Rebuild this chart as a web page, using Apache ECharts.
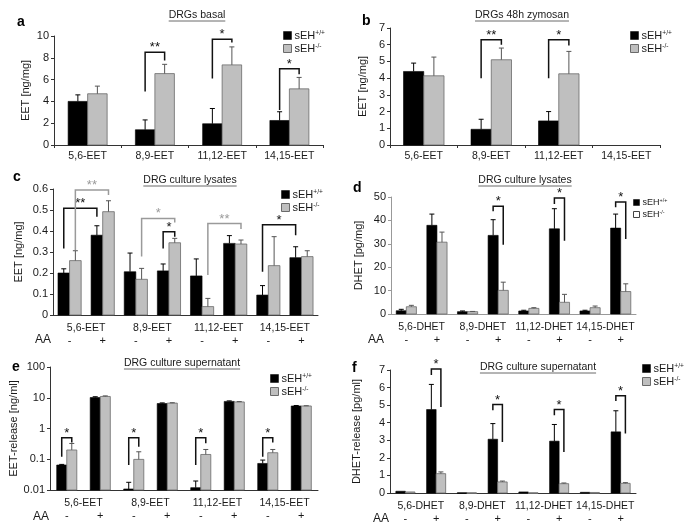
<!DOCTYPE html>
<html><head><meta charset="utf-8">
<script src="https://cdn.jsdelivr.net/npm/echarts@6/dist/echarts.min.js"></script>
<style>html,body{margin:0;padding:0;background:#fff}#c{width:685px;height:530px}</style>
</head><body><div id="c"></div>
<script>
// ---------- categories ----------
const catsEET = ['5,6-EET','8,9-EET','11,12-EET','14,15-EET'];
const catsDHET = ['5,6-DHET','8,9-DHET','11,12-DHET','14,15-DHET'];
const aaSigns = ['-','+','-','+','-','+','-','+'];
const seriesNames = ['sEH+/+','sEH-/-'];

// ---------- panel a: DRGs basal (ng/mg) ----------
const aWT = [4.0, 1.4, 1.95, 2.25];
const aWTerr = [4.6, 2.3, 3.35, 3.05];
const aKO = [4.7, 6.55, 7.35, 5.15];
const aKOerr = [5.4, 7.4, 9.0, 6.2];
// brackets: [leftCat, leftSide, leftBottom, rightCat, rightSide, rightBottom, top]
const aBr = [[1,0,4.9,1,1,7.75,8.5],[2,0,6.1,2,1,9.4,9.7],[3,0,3.2,3,1,6.5,7.0]];
const aBrMark = ['**','*','*'];

// ---------- panel b: DRGs 48h zymosan ----------
const bWT = [4.4, 0.94, 1.44, 0];
const bWTerr = [4.9, 1.54, 2.0, 0];
const bKO = [4.14, 5.1, 4.26, 0];
const bKOerr = [5.26, 5.8, 5.6, 0];
const bBr = [[1,0,4.0,1,1,6.0,6.3],[2,0,4.0,2,1,5.96,6.3]];
const bBrMark = ['**','*'];

// ---------- panel c: DRG culture lysates EET ----------
const cWT = [0.20, 0.38, 0.206, 0.21, 0.186, 0.341, 0.095, 0.273];
const cWTerr = [0.22, 0.425, 0.295, 0.243, 0.267, 0.378, 0.14, 0.325];
const cKO = [0.259, 0.492, 0.17, 0.344, 0.04, 0.338, 0.235, 0.278];
const cKOerr = [0.306, 0.544, 0.222, 0.365, 0.079, 0.357, 0.373, 0.306];
const cBr = [[0,0,0.317,1,0,0.468,0.508],[0,1,0.31,1,1,0.571,0.595],[2,1,0.278,3,1,0.44,0.46],
             [3,0,0.317,3,1,0.373,0.397],[4,1,0.19,5,1,0.41,0.436],[6,0,0.206,7,0,0.38,0.43]];
const cBrMark = ['**','**','*','*','**','*'];
const cBrGray = [0,1,1,0,1,0];

// ---------- panel d: DRG culture lysates DHET (pg/mg) ----------
const dWT = [1.4, 37.9, 1.0, 33.6, 1.3, 36.4, 1.3, 36.7];
const dWTerr = [2.0, 42.7, 1.3, 40.3, 1.6, 45.0, 1.6, 42.7];
const dKO = [3.1, 30.7, 1.0, 10.1, 2.4, 5.0, 2.7, 9.6];
const dKOerr = [3.7, 35.0, 1.1, 13.6, 2.7, 8.4, 3.4, 12.9];
const dBr = [[3,0,43.9,3,1,29.6,46],[5,0,47,5,1,31.3,49.6],[7,0,45.6,7,1,32.1,47.9]];
const dBrMark = ['*','*','*'];

// ---------- panel e: DRG culture supernatant EET-release (ng/ml, log) ----------
const eWT = [0.065, 10.2, 0.0108, 6.5, 0.0119, 7.6, 0.073, 5.4];
const eWTerr = [0.068, 10.8, 0.0178, 6.8, 0.0196, 7.9, 0.094, 5.6];
const eKO = [0.2, 11.0, 0.099, 6.7, 0.143, 7.3, 0.163, 5.4];
const eKOerr = [0.326, 11.5, 0.175, 6.9, 0.208, 7.5, 0.208, 5.5];
const eBr = [[0,0,0.12,0,1,0.35,0.5],[2,0,0.065,2,1,0.254,0.5],[4,0,0.065,4,1,0.33,0.5],[6,0,0.12,6,1,0.35,0.5]];
const eBrMark = ['*','*','*','*'];

// ---------- panel f: DRG culture supernatant DHET-release (pg/ml) ----------
const fWT = [0.1, 4.75, 0.02, 3.06, 0.06, 2.95, 0.04, 3.48];
const fWTerr = [0.1, 6.18, 0.02, 3.95, 0.06, 3.9, 0.04, 4.68];
const fKO = [0.06, 1.1, 0.02, 0.63, 0.02, 0.53, 0.03, 0.55];
const fKOerr = [0.06, 1.2, 0.02, 0.68, 0.02, 0.57, 0.03, 0.59];
const fBr = [[1,0,6.71,1,1,4.9,7.05],[3,0,4.71,3,1,2.9,5.04],[5,0,4.43,5,1,2.34,4.75],[7,0,5.23,7,1,3.38,5.53]];
const fBrMark = ['*','*','*','*'];

// ---------- layout / styles ----------
const FONT = '"Liberation Sans", Arial, sans-serif';
const TXT = '#1a1a1a';
const GRAY = '#bfbfbf';
const GRAYB = '#6a6a6a';
const panels = [
  {letter:'a', title:'DRGs basal', tx:197, ty:15, lx:17, ly:29, grid:{left:54,top:36,width:269,height:109}, gap:0.42,
   ymax:10, yint:2, yname:'EET [ng/mg]', ngap:23, cats:catsEET, signs:false,
   wt:aWT, wte:aWTerr, ko:aKO, koe:aKOerr, br:aBr, mk:aBrMark, legend:{left:283,top:30}},
  {letter:'b', title:'DRGs 48h zymosan', tx:522, ty:15, lx:362, ly:28, grid:{left:390,top:28,width:270,height:117}, gap:0.40,
   ymax:7, yint:1, yname:'EET [ng/mg]', ngap:22, cats:catsEET, signs:false,
   wt:bWT, wte:bWTerr, ko:bKO, koe:bKOerr, br:bBr, mk:bBrMark, legend:{left:630,top:30}},
  {letter:'c', title:'DRG culture lysates', tx:190, ty:180, lx:13, ly:184, grid:{left:53,top:189,width:265,height:126}, gap:0.30,
   ymax:0.6, yint:0.1, yname:'EET [ng/mg]', ngap:29, cats:catsEET, signs:true, aa:[35,340],
   wt:cWT, wte:cWTerr, ko:cKO, koe:cKOerr, br:cBr, mk:cBrMark, brGray:cBrGray, legend:{left:281,top:189}},
  {letter:'d', title:'DRG culture lysates', tx:525, ty:180, lx:353, ly:195, grid:{left:391,top:197,width:245,height:117}, gap:0.34,
   ymax:50, yint:10, yname:'DHET [pg/mg]', ngap:27, cats:catsDHET, signs:true, aa:[368,340], axisColor:'#999',
   wt:dWT, wte:dWTerr, ko:dKO, koe:dKOerr, br:dBr, mk:dBrMark, legend:{left:633,top:198}, smallLegend:true},
  {letter:'e', title:'DRG culture supernatant', tx:182, ty:363, lx:12, ly:374, grid:{left:50,top:367,width:268,height:123}, gap:0.40,
   log:true, yname:'EET-release [ng/ml]', ngap:29, cats:catsEET, signs:true, aa:[33,517],
   wt:eWT, wte:eWTerr, ko:eKO, koe:eKOerr, br:eBr, mk:eBrMark, legend:{left:270,top:373}},
  {letter:'f', title:'DRG culture supernatant', tx:538, ty:367, lx:352, ly:375, grid:{left:390,top:370,width:246,height:123}, gap:0.38,
   ymax:7, yint:1, yname:'DHET-release [pg/ml]', ngap:28, cats:catsDHET, signs:true, aa:[373,519],
   wt:fWT, wte:fWTerr, ko:fKO, koe:fKOerr, br:fBr, mk:fBrMark, legend:{left:642,top:363}}
];

const mctx = document.createElement('canvas').getContext('2d');
function textW(t, f){ mctx.font = f; return mctx.measureText(t).width; }

const grids = [], xAxes = [], yAxes = [], series = [], legends = [], graphics = [];

panels.forEach((p, pi) => {
  grids.push(Object.assign({containLabel:false}, p.grid));
  const base = p.log ? 0.01 : 0;
  const axisColor = p.axisColor || '#333';
  const nameAxisIdx = xAxes.length;
  xAxes.push({
    type:'category', gridIndex:pi, position:'bottom', data:p.cats,
    axisLine:{show:true, onZero:false, lineStyle:{color:axisColor, width:1}},
    axisTick:{show:!p.signs, length:3, alignWithLabel:false, lineStyle:{color:axisColor}},
    axisLabel:{interval:0, margin:p.signs?8:6, fontSize:10.5, fontFamily:FONT, color:TXT},
    splitLine:{show:false}
  });
  let barAxisIdx = nameAxisIdx;
  if (p.signs) {
    barAxisIdx = xAxes.length;
    xAxes.push({
      type:'category', gridIndex:pi, position:'bottom', data:aaSigns,
      axisLine:{show:false, onZero:false}, axisTick:{show:false},
      axisLabel:{interval:0, margin:20, fontSize:11, fontFamily:FONT, color:TXT},
      splitLine:{show:false}
    });
  }
  const yAx = {
    gridIndex:pi, name:p.yname, nameLocation:'middle', nameGap:p.ngap,
    nameTextStyle:{fontSize:11, fontFamily:FONT, color:TXT},
    axisLine:{show:true, lineStyle:{color:axisColor, width:1}},
    axisTick:{show:true, length:3, lineStyle:{color:axisColor}},
    axisLabel:{fontSize:11, fontFamily:FONT, color:TXT, margin:5},
    splitLine:{show:false}
  };
  if (p.log) Object.assign(yAx, {type:'log', logBase:10, min:0.01, max:100});
  else Object.assign(yAx, {type:'value', min:0, max:p.ymax, interval:p.yint});
  yAxes.push(yAx);

  const band = (api) => Math.abs(api.coord([1, 1])[0] - api.coord([0, 1])[0]);
  const cxOf = (api, cat, side) => {
    const w = band(api) * (1 - p.gap) / 2;
    return api.coord([cat, 1])[0] + (side - 0.5) * w;
  };

  [0,1].forEach(side => {
    const vals = side ? p.ko : p.wt;
    const errs = side ? p.koe : p.wte;
    const fill = side ? GRAY : '#000';
    const stroke = side ? GRAYB : '#000';
    series.push({
      type:'custom', name:seriesNames[side], xAxisIndex:barAxisIdx, yAxisIndex:pi,
      itemStyle:{color:fill, borderColor:stroke}, clip:false,
      data: vals.map((v,i)=>[i, v]),
      renderItem:(params, api) => {
        const cat = api.value(0), v = api.value(1);
        if (!(v > 0)) return null;
        const top = api.coord([cat, v]);
        const bot = api.coord([cat, base]);
        const w = band(api) * (1 - p.gap) / 2;
        const x = top[0] - w + side * w;
        return {type:'rect', shape:{x:x, y:top[1], width:w, height:Math.max(bot[1]-top[1], 0.8)},
                style:{fill:fill, stroke:stroke, lineWidth:side?0.8:0.6}};
      }
    });
    series.push({
      type:'custom', name:'err'+side, xAxisIndex:barAxisIdx, yAxisIndex:pi, clip:false, silent:true,
      data: vals.map((v,i)=>[i, v > 0 ? v : base]),
      renderItem:(params, api) => {
        const i = params.dataIndex;
        const v = vals[i], e = errs[i];
        if (!(e > v) || !(v > 0)) return null;
        const x = cxOf(api, i, side);
        const y1 = api.coord([i, v])[1], y2 = api.coord([i, e])[1];
        const col = side ? '#555' : '#000';
        return {type:'group', children:[
          {type:'line', shape:{x1:x, y1:y1, x2:x, y2:y2}, style:{stroke:col, lineWidth:1}},
          {type:'line', shape:{x1:x-2.5, y1:y2, x2:x+2.5, y2:y2}, style:{stroke:col, lineWidth:1}}
        ]};
      }
    });
  });

  series.push({
    type:'custom', name:'sig', xAxisIndex:barAxisIdx, yAxisIndex:pi, clip:false, silent:true,
    data: p.br.map(r => [r[0], r[6]]),
    renderItem:(params, api) => {
      const r = p.br[params.dataIndex];
      const col = (p.brGray && p.brGray[params.dataIndex]) ? '#9a9a9a' : '#111';
      const xL = cxOf(api, r[0], r[1]), xR = cxOf(api, r[3], r[4]);
      const yLb = api.coord([r[0], r[2]])[1];
      const yRb = api.coord([r[3], r[5]])[1];
      const yT = api.coord([r[0], r[6]])[1];
      return {type:'group', children:[
        {type:'polyline', shape:{points:[[xL,yLb],[xL,yT],[xR,yT],[xR,yRb]]}, style:{stroke:col, lineWidth:1.5, fill:null}},
        {type:'text', style:{text:p.mk[params.dataIndex], x:(xL+xR)/2, y:yT+2, align:'center', verticalAlign:'bottom',
          textAlign:'center', textVerticalAlign:'bottom', font:'13px ' + FONT, fill:col}}
      ]};
    }
  });

  const lfs = p.smallLegend ? 9 : 11;
  legends.push({
    orient:'vertical', left:p.legend.left, top:p.legend.top, padding:0,
    itemWidth:p.smallLegend?6:8, itemHeight:p.smallLegend?6:8, itemGap:p.smallLegend?3:2,
    selectedMode:false,
    data:[
      {name:'sEH+/+', icon:'rect', itemStyle:{color:'#000', borderColor:'#000', borderWidth:0.5}},
      {name:'sEH-/-', icon:'rect', itemStyle:{color:p.smallLegend?'#fff':GRAY, borderColor:p.smallLegend?'#444':GRAYB, borderWidth:1}}
    ],
    formatter: n => n === 'sEH+/+' ? 'sEH{s|+/+}' : 'sEH{s|-/-}',
    textStyle:{fontSize:lfs, fontFamily:FONT, color:TXT, padding:[0,0,0,-2],
      rich:{s:{fontSize:lfs*0.6, fontFamily:FONT, color:TXT, verticalAlign:'top'}}}
  });

  const tf = '10.5px ' + FONT;
  const w = textW(p.title, tf);
  graphics.push({type:'text', x:p.tx, y:p.ty, style:{text:p.title, font:tf, fill:TXT,
    align:'center', verticalAlign:'middle', textAlign:'center', textVerticalAlign:'middle'}});
  graphics.push({type:'line', shape:{x1:p.tx - w/2, y1:p.ty+6, x2:p.tx + w/2, y2:p.ty+6}, style:{stroke:'#444', lineWidth:0.8}});
  graphics.push({type:'text', x:p.lx, y:p.ly, style:{text:p.letter, font:'bold 14px ' + FONT, fill:'#000',
    align:'left', verticalAlign:'bottom', textAlign:'left', textVerticalAlign:'bottom'}});
  if (p.aa) {
    graphics.push({type:'text', x:p.aa[0], y:p.aa[1], style:{text:'AA', font:'12px ' + FONT, fill:TXT,
      align:'left', verticalAlign:'middle', textAlign:'left', textVerticalAlign:'middle'}});
  }
});

const chart = echarts.init(document.getElementById('c'), null, {renderer:'canvas'});
chart.setOption({
  animation:false,
  backgroundColor:'#fff',
  grid:grids, xAxis:xAxes, yAxis:yAxes, series:series, legend:legends, graphic:graphics
});
</script>
</body></html>
